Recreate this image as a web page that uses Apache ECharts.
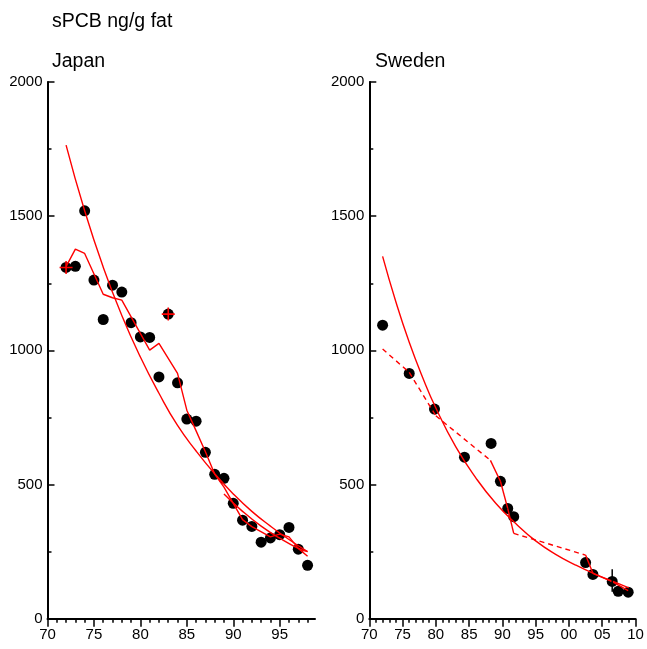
<!DOCTYPE html>
<html>
<head>
<meta charset="utf-8">
<script src="https://cdn.jsdelivr.net/npm/echarts@6/dist/echarts.min.js"></script>
<style>
html, body { margin: 0; padding: 0; background: #fff; }
#chart { width: 647px; height: 649px; }
</style>
</head>
<body>
<div id="chart"></div>
<script>
// Japan - measured points
var japanYears = [72, 73, 74, 75, 76, 77, 78, 79, 80, 81, 82, 83, 84, 85, 86, 87, 88, 89, 90, 91, 92, 93, 94, 95, 96, 97, 98];
var japanValues = [1309, 1313, 1520, 1262, 1115, 1243, 1217, 1103, 1050, 1048, 901, 1135, 879, 744, 736, 620, 538, 523, 430, 367, 344, 285, 301, 313, 340, 259, 199];
var japanCrossYears = [72, 83];
var japanCrossValues = [1309, 1135];
// Japan - fitted curve, running line, late trend
var japanFitYears = [72, 74, 76, 78, 80, 82, 84, 86, 88, 90, 92, 94, 96, 98];
var japanFitValues = [1765, 1520, 1310, 1130, 975, 840, 720, 625, 540, 465, 400, 345, 295, 250];
var japanRunYears = [72, 73, 74, 76, 77, 78, 81, 82, 84, 85, 86, 87, 88, 89, 90, 91, 92, 94, 95, 96, 97, 98];
var japanRunValues = [1312, 1377, 1361, 1209, 1196, 1187, 1001, 1026, 914, 777, 700, 622, 539, 490, 430, 369, 343, 305, 315, 305, 262, 233];
var japanLateYears = [89, 91, 93, 95, 97, 98];
var japanLateValues = [465, 400, 345, 300, 262, 250];

// Sweden
var swedenYears = [1972, 1976, 1979.8, 1984.3, 1988.3, 1989.7, 1990.8, 1991.7, 2002.5, 2003.6, 2006.5, 2007.4, 2008.9];
var swedenValues = [1094, 914, 781, 602, 653, 512, 411, 380, 209, 165, 139, 102, 99];
var swedenFitYears = [1972, 1974, 1976, 1978, 1980, 1983, 1986, 1989, 1992, 1995, 1998, 2001, 2004, 2007, 2009];
var swedenFitValues = [1350, 1180, 1030, 900, 785, 640, 525, 430, 355, 290, 240, 200, 165, 135, 115];
var swedenTrendYears = [1972, 1976, 1980, 1988.2, 1989.7, 1990.8, 1991.7, 2002.5, 2003.6, 2006.5, 2008.9];
var swedenTrendValues = [1005, 918, 756, 590, 512, 411, 318, 237, 169, 138, 105];
// line type of each segment between two trend points
var swedenTrendDash = [true, true, true, false, false, false, true, false, false, false];
var swedenErrYear = 2006.5;
var swedenErrLow = 100;
var swedenErrHigh = 184;

var japanXLabels = [70, 75, 80, 85, 90, 95];
var yMax = 2000;

var FONT = 'Liberation Sans, Arial, sans-serif';
var RED = '#ff0000';

function pairs(xs, ys) {
    return xs.map(function (x, i) { return [x, ys[i]]; });
}

var japanMinor = [];
for (var y = 71; y <= 98; y++) {
    if (y % 5 !== 0) japanMinor.push(y);
}

var chart = echarts.init(document.getElementById('chart'));

function yAxis(idx) {
    return {
        gridIndex: idx, type: 'value', min: 0, max: yMax, interval: 500,
        axisLine: {show: true, lineStyle: {color: '#000', width: 2}},
        axisTick: {show: true, inside: true, length: 7, lineStyle: {color: '#000', width: 1.5}},
        minorTick: {show: true, splitNumber: 2, length: 4, lineStyle: {color: '#000', width: 1.5}},
        splitLine: {show: false},
        axisLabel: {color: '#000', fontSize: 15, margin: 5, fontFamily: FONT, formatter: function (v) { return String(v); }}
    };
}

var series = [];
function lineSeries(xi, yi, data, smooth, dashed) {
    series.push({
        type: 'line', xAxisIndex: xi, yAxisIndex: yi, data: data,
        smooth: smooth, symbol: 'none', z: 3,
        lineStyle: {color: RED, width: 1.4, type: dashed ? [5, 4] : 'solid'}
    });
}

// japan
series.push({
    type: 'scatter', xAxisIndex: 0, yAxisIndex: 0, data: pairs(japanYears, japanValues),
    symbolSize: 11, itemStyle: {color: '#000', opacity: 1}, z: 2
});
lineSeries(0, 0, pairs(japanFitYears, japanFitValues), true, false);
lineSeries(0, 0, pairs(japanRunYears, japanRunValues), false, false);
lineSeries(0, 0, pairs(japanLateYears, japanLateValues), true, false);
series.push({
    type: 'scatter', xAxisIndex: 0, yAxisIndex: 0, data: pairs(japanCrossYears, japanCrossValues),
    symbol: 'path://M0,4.4H10V5.6H0Z M4.4,0H5.6V10H4.4Z', symbolSize: 13,
    itemStyle: {color: RED, opacity: 1}, z: 4
});

// sweden
series.push({
    type: 'scatter', xAxisIndex: 2, yAxisIndex: 1, data: pairs(swedenYears, swedenValues),
    symbolSize: 11, itemStyle: {color: '#000', opacity: 1}, z: 2
});
lineSeries(2, 1, pairs(swedenFitYears, swedenFitValues), true, false);
for (var i = 0; i < swedenTrendDash.length; i++) {
    lineSeries(2, 1, [[swedenTrendYears[i], swedenTrendValues[i]], [swedenTrendYears[i + 1], swedenTrendValues[i + 1]]], false, swedenTrendDash[i]);
}
series.push({
    type: 'line', xAxisIndex: 2, yAxisIndex: 1, symbol: 'none', z: 5,
    data: [[swedenErrYear, swedenErrLow], [swedenErrYear, swedenErrHigh]],
    lineStyle: {color: '#000', width: 1.5}
});

var titleStyle = {fontSize: 19.5, fontWeight: 'normal', color: '#000', fontFamily: FONT};

var option = {
    animation: false,
    backgroundColor: '#fff',
    title: [
        {text: 'sPCB ng/g fat', left: 47, top: 7, textStyle: titleStyle},
        {text: 'Japan', left: 47, top: 47, textStyle: titleStyle},
        {text: 'Sweden', left: 370, top: 47, textStyle: titleStyle}
    ],
    grid: [
        {left: 47.5, top: 82, width: 267.5, height: 536.7},
        {left: 369.3, top: 82, width: 266.2, height: 536.7}
    ],
    xAxis: [
        {
            gridIndex: 0, type: 'value', min: 70, max: 98.8, position: 'bottom',
            axisLine: {show: true, lineStyle: {color: '#000', width: 2}},
            axisTick: {show: true, length: 8, customValues: japanXLabels, lineStyle: {color: '#000', width: 1.5}},
            axisLabel: {color: '#000', fontSize: 15, margin: 9, fontFamily: FONT, customValues: japanXLabels},
            splitLine: {show: false}
        },
        {
            gridIndex: 0, type: 'value', min: 70, max: 98.8, position: 'bottom',
            axisLine: {show: false},
            axisTick: {show: true, length: 4, customValues: japanMinor, lineStyle: {color: '#000', width: 1.5}},
            axisLabel: {show: false},
            splitLine: {show: false}
        },
        {
            gridIndex: 1, type: 'value', min: 1970, max: 2010, interval: 5, position: 'bottom',
            axisLine: {show: true, lineStyle: {color: '#000', width: 2}},
            axisTick: {show: true, length: 8, lineStyle: {color: '#000', width: 1.5}},
            minorTick: {show: true, splitNumber: 5, length: 4, lineStyle: {color: '#000', width: 1.5}},
            axisLabel: {
                color: '#000', fontSize: 15, margin: 9, fontFamily: FONT,
                formatter: function (v) { var s = String(v % 100); return s.length < 2 ? '0' + s : s; }
            },
            splitLine: {show: false}
        }
    ],
    yAxis: [yAxis(0), yAxis(1)],
    series: series
};

chart.setOption(option);
</script>
</body>
</html>
